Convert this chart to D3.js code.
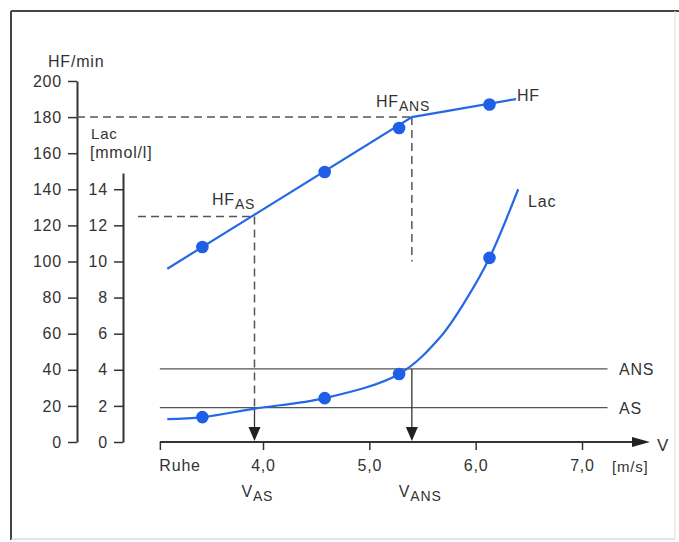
<!DOCTYPE html>
<html>
<head>
<meta charset="utf-8">
<title>HF und Laktat</title>
<script src="https://d3js.org/d3.v7.min.js"></script>
<style>
body { margin: 0; background: #fff; }
svg { display: block; }
text { font-family: 'Liberation Sans', Arial, sans-serif; fill: #333; letter-spacing: 0.8px; }
</style>
</head>
<body>
<svg width="679" height="542"></svg>
<script>
// Achsen
var hfTicks = [0, 20, 40, 60, 80, 100, 120, 140, 160, 180, 200];
var lacTicks = [0, 2, 4, 6, 8, 10, 12, 14];
var vTicks = [3.03, 4, 5, 6, 7];
var vTickLabels = ["Ruhe", "4,0", "5,0", "6,0", "7,0"];

// Herzfrequenz (Linie mit Knick bei HF ANS) und Messpunkte
var hfLineV = [3.10, 5.40, 6.38];
var hfLineVal = [96, 180, 190];
var hfDotV = [3.43, 4.58, 5.28, 6.13];
var hfDotVal = [108, 149.6, 174, 187];

// Laktatkurve und Messpunkte
var lacCurveV = [3.10, 3.43, 3.92, 4.58, 5.28, 5.66, 5.92, 6.13, 6.40];
var lacCurveVal = [1.27, 1.38, 1.85, 2.43, 3.77, 5.76, 7.98, 10.2, 14.0];
var lacDotV = [3.43, 4.58, 5.28, 6.13];
var lacDotVal = [1.38, 2.43, 3.77, 10.2];

// Schwellen: AS (aerob), ANS (anaerob)
var thrNames = ["AS", "ANS"];
var thrLac = [1.9, 4.05];
var thrV = [3.92, 5.40];
var thrHF = [125, 180];

var svg = d3.select("svg");
var hfAxisX = 77, lacAxisX = 123, axisY = 442;
var blue = "#2468e6", dark = "#333";

var x = d3.scaleLinear().domain([4, 7]).range([263, 582]);
var yHF = d3.scaleLinear().domain([0, 200]).range([axisY, 81]);
var yLac = d3.scaleLinear().domain([0, 14.9]).range([axisY, 173]);

// Rahmen
svg.append("line").attr("x1", 11).attr("y1", 11).attr("x2", 679).attr("y2", 11).attr("stroke", "#444").attr("stroke-width", 2);
svg.append("line").attr("x1", 11).attr("y1", 11).attr("x2", 11).attr("y2", 540).attr("stroke", "#444").attr("stroke-width", 2);
svg.append("line").attr("x1", 11).attr("y1", 539).attr("x2", 675).attr("y2", 539).attr("stroke", "#ccc");
svg.append("line").attr("x1", 675).attr("y1", 11).attr("x2", 675).attr("y2", 539).attr("stroke", "#ddd");

function styleAxis(g) {
  g.select(".domain").attr("stroke", dark).attr("stroke-width", 2);
  g.selectAll(".tick line").attr("stroke", dark).attr("stroke-width", 1.5);
  g.selectAll(".tick text").attr("font-size", 16).attr("fill", dark);
  g.attr("font-family", null);
}

// HF-Achse
svg.append("g").attr("transform", "translate(" + hfAxisX + ",0)")
  .call(d3.axisLeft(yHF).tickValues(hfTicks).tickSize(9).tickSizeOuter(0).tickPadding(6))
  .call(styleAxis);

// Laktat-Achse
svg.append("g").attr("transform", "translate(" + lacAxisX + ",0)")
  .call(d3.axisLeft(yLac).tickValues(lacTicks).tickSize(9).tickSizeOuter(0).tickPadding(6))
  .call(styleAxis);

// Geschwindigkeitsachse
var gx = svg.append("g").attr("transform", "translate(0," + axisY + ")")
  .call(d3.axisBottom(x).tickValues(vTicks).tickFormat(function (d, i) { return vTickLabels[i]; })
    .tickSize(8).tickPadding(10))
  .call(styleAxis);
gx.select(".domain").remove();
gx.selectAll(".tick text").filter(function (d, i) { return i === 0; }).attr("text-anchor", "start").attr("x", -1);
svg.append("line").attr("x1", x(3.03)).attr("x2", 636).attr("y1", axisY).attr("y2", axisY)
  .attr("stroke", dark).attr("stroke-width", 2);
svg.append("path").attr("d", "M632," + (axisY - 5) + "L650," + axisY + "L632," + (axisY + 5) + "Z").attr("fill", "#222");

// Achsentitel
svg.append("text").attr("x", 48).attr("y", 67).attr("font-size", 16).text("HF/min");
svg.append("text").attr("x", 91).attr("y", 139).attr("font-size", 15).text("Lac");
svg.append("text").attr("x", 90).attr("y", 158).attr("font-size", 16).attr("letter-spacing", 1).text("[mmol/l]");
svg.append("text").attr("x", 657).attr("y", 451).attr("font-size", 17).text("V");
svg.append("text").attr("x", 612).attr("y", 472).attr("font-size", 15).text("[m/s]");

// Schwellenlinien
thrLac.forEach(function (d, i) {
  svg.append("line").attr("x1", x(3.03)).attr("x2", x(7.24)).attr("y1", yLac(d)).attr("y2", yLac(d))
    .attr("stroke", "#555").attr("stroke-width", 1.3);
  svg.append("text").attr("x", 619).attr("y", yLac(d) + 6).attr("font-size", 16).text(thrNames[i]);
});

// gestrichelte Hilfslinien HF_AS / HF_ANS
var dashStart = [lacAxisX + 15, hfAxisX];
var dashEnd = [yLac(thrLac[0]), yLac(10)];
thrV.forEach(function (v, i) {
  svg.append("line").attr("x1", dashStart[i]).attr("x2", x(v)).attr("y1", yHF(thrHF[i])).attr("y2", yHF(thrHF[i]))
    .attr("stroke", "#555").attr("stroke-width", 1.5).attr("stroke-dasharray", "8,5");
  svg.append("line").attr("x1", x(v)).attr("x2", x(v)).attr("y1", yHF(thrHF[i])).attr("y2", dashEnd[i])
    .attr("stroke", "#555").attr("stroke-width", 1.5).attr("stroke-dasharray", "8,5");
  // durchgezogen bis zur Achse mit Pfeil
  svg.append("line").attr("x1", x(v)).attr("x2", x(v)).attr("y1", yLac(thrLac[i])).attr("y2", axisY - 12)
    .attr("stroke", "#333").attr("stroke-width", 1.3);
  svg.append("path").attr("d", "M" + (x(v) - 6) + "," + (axisY - 15) + "L" + (x(v) + 6) + "," + (axisY - 15) + "L" + x(v) + "," + (axisY - 1) + "Z")
    .attr("fill", "#222");
  // V_AS / V_ANS
  var t = svg.append("text").attr("x", x(v) - 13).attr("y", 497).attr("font-size", 16);
  t.append("tspan").text("V");
  t.append("tspan").attr("font-size", 14).attr("dy", 4).text(thrNames[i]);
});

// HF-Kurve
var hfData = hfLineV.map(function (v, i) { return [v, hfLineVal[i]]; });
svg.append("path").datum(hfData)
  .attr("d", d3.line().x(function (d) { return x(d[0]); }).y(function (d) { return yHF(d[1]); }))
  .attr("fill", "none").attr("stroke", blue).attr("stroke-width", 2.2);
svg.selectAll(".hfdot").data(hfDotV).enter().append("circle")
  .attr("cx", function (d) { return x(d); })
  .attr("cy", function (d, i) { return yHF(hfDotVal[i]); })
  .attr("r", 6.3).attr("fill", "#1f5fe8");

// Laktatkurve
var lacData = lacCurveV.map(function (v, i) { return [v, lacCurveVal[i]]; });
svg.append("path").datum(lacData)
  .attr("d", d3.line().curve(d3.curveCatmullRom.alpha(0.5)).x(function (d) { return x(d[0]); }).y(function (d) { return yLac(d[1]); }))
  .attr("fill", "none").attr("stroke", blue).attr("stroke-width", 2.2);
svg.selectAll(".lacdot").data(lacDotV).enter().append("circle")
  .attr("cx", function (d) { return x(d); })
  .attr("cy", function (d, i) { return yLac(lacDotVal[i]); })
  .attr("r", 6.3).attr("fill", "#1f5fe8");

// Beschriftungen der Kurven
svg.append("text").attr("x", 517).attr("y", 101).attr("font-size", 16).text("HF");
svg.append("text").attr("x", 528).attr("y", 207).attr("font-size", 16).text("Lac");
var hfLabelX = [212, 376], hfLabelY = [205, 107];
thrNames.forEach(function (n, i) {
  var t = svg.append("text").attr("x", hfLabelX[i]).attr("y", hfLabelY[i]).attr("font-size", 16);
  t.append("tspan").text("HF");
  t.append("tspan").attr("font-size", 14).attr("dy", 4).text(n);
});
</script>
</body>
</html>
